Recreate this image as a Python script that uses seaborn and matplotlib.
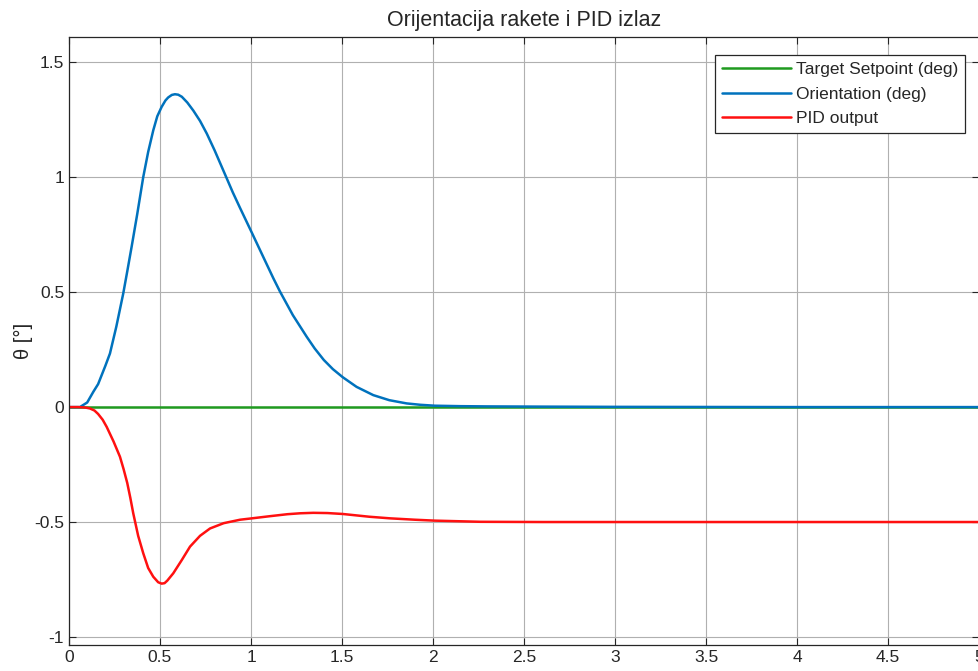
import matplotlib
matplotlib.use("Agg")
import matplotlib.pyplot as plt
import seaborn as sns

# values
t_set = [0, 5]
setpoint = [0, 0]

t_orient = [0, 0.06, 0.1, 0.134, 0.16, 0.18, 0.2, 0.225, 0.26, 0.298, 0.32, 0.344, 0.375,
            0.408, 0.435, 0.463, 0.485, 0.509, 0.53, 0.545, 0.565, 0.582, 0.6, 0.62, 0.65,
            0.683, 0.72, 0.757, 0.8, 0.864, 0.9, 0.94, 1.005, 1.08, 1.123, 1.159, 1.23,
            1.306, 1.35, 1.4, 1.45, 1.504, 1.58, 1.672, 1.76, 1.855, 1.93, 2.01, 2.15,
            2.3, 2.6, 3.0, 4.0, 5.0]
orientation = [0, 0.0, 0.02, 0.067, 0.1, 0.14, 0.18, 0.233, 0.35, 0.494, 0.59, 0.697, 0.84,
               1.001, 1.11, 1.204, 1.265, 1.306, 1.334, 1.347, 1.358, 1.361, 1.359, 1.35, 1.325,
               1.29, 1.245, 1.19, 1.117, 1.0, 0.934, 0.866, 0.758, 0.632, 0.56, 0.503, 0.40,
               0.306, 0.255, 0.205, 0.165, 0.13, 0.088, 0.052, 0.03, 0.016, 0.01, 0.006, 0.004,
               0.003, 0.002, 0.001, 0.0, 0.0]

t_pid = [0, 0.05, 0.09, 0.115, 0.14, 0.16, 0.185, 0.207, 0.245, 0.28, 0.3, 0.32, 0.337, 0.353,
         0.38, 0.408, 0.435, 0.463, 0.49, 0.509, 0.525, 0.54, 0.573, 0.62, 0.665, 0.72, 0.775,
         0.85, 0.94, 1.005, 1.1, 1.2, 1.27, 1.342, 1.42, 1.504, 1.65, 1.764, 1.9, 2.01,
         2.26, 2.6, 5.0]
pid_out = [0, 0, -0.002, -0.006, -0.015, -0.03, -0.055, -0.086, -0.15, -0.216, -0.27, -0.33, -0.395,
           -0.462, -0.56, -0.636, -0.70, -0.738, -0.762, -0.768, -0.766, -0.755, -0.723, -0.665, -0.607,
           -0.56, -0.528, -0.505, -0.49, -0.484, -0.475, -0.466, -0.462, -0.46, -0.461, -0.465, -0.477,
           -0.484, -0.49, -0.494, -0.499, -0.5, -0.5]

x_ticks = [0, 0.5, 1, 1.5, 2, 2.5, 3, 3.5, 4, 4.5, 5]
x_labels = ["0", "0.5", "1", "1.5", "2", "2.5", "3", "3.5", "4", "4.5", "5"]
y_ticks = [-1, -0.5, 0, 0.5, 1, 1.5]
y_labels = ["-1", "-0.5", "0", "0.5", "1", "1.5"]

sns.set_style("ticks")
plt.rcParams['font.family'] = ['Liberation Sans', 'DejaVu Sans']
plt.rcParams['axes.unicode_minus'] = False

fig = plt.figure(figsize=(9.79, 6.71), dpi=100)
ax = fig.add_axes([69/979, 1 - 645/671, 1 - 69/979, (645 - 37)/671])

sns.lineplot(x=t_set, y=setpoint, color='#1f9a1f', lw=1.8,
             label='Target Setpoint (deg)', ax=ax)
sns.lineplot(x=t_orient, y=orientation, color='#0072BD', lw=1.8,
             label='Orientation (deg)', ax=ax)
sns.lineplot(x=t_pid, y=pid_out, color='#FF1010', lw=1.8,
             label='PID output', ax=ax)

ax.set_xlim(0, 5)
ax.set_ylim(-1.035, 1.61)
ax.set_xticks(x_ticks, x_labels)
ax.set_yticks(y_ticks, y_labels)
ax.tick_params(direction='in', length=5, width=0.8, top=True, right=True,
               labelsize=12.5, colors='#262626')
ax.grid(True, color='#b0b0b0', lw=0.8)
ax.set_axisbelow(True)
for s in ax.spines.values():
    s.set_color('#262626')
    s.set_linewidth(0.9)

ax.set_title('Orijentacija rakete i PID izlaz', fontsize=15.5, pad=8)
ax.set_ylabel('θ [°]', fontsize=14.5, labelpad=1)
ax.set_xlabel('')

leg = ax.legend(loc='upper right', bbox_to_anchor=(0.985, 0.97), borderaxespad=0,
                fontsize=12.5, handlelength=4.0, frameon=True, fancybox=False,
                framealpha=1, borderpad=0.4, labelspacing=0.54, handletextpad=0.3)
leg.get_frame().set_edgecolor('#262626')
leg.get_frame().set_linewidth(0.9)

fig.savefig('out.png', dpi=100)
